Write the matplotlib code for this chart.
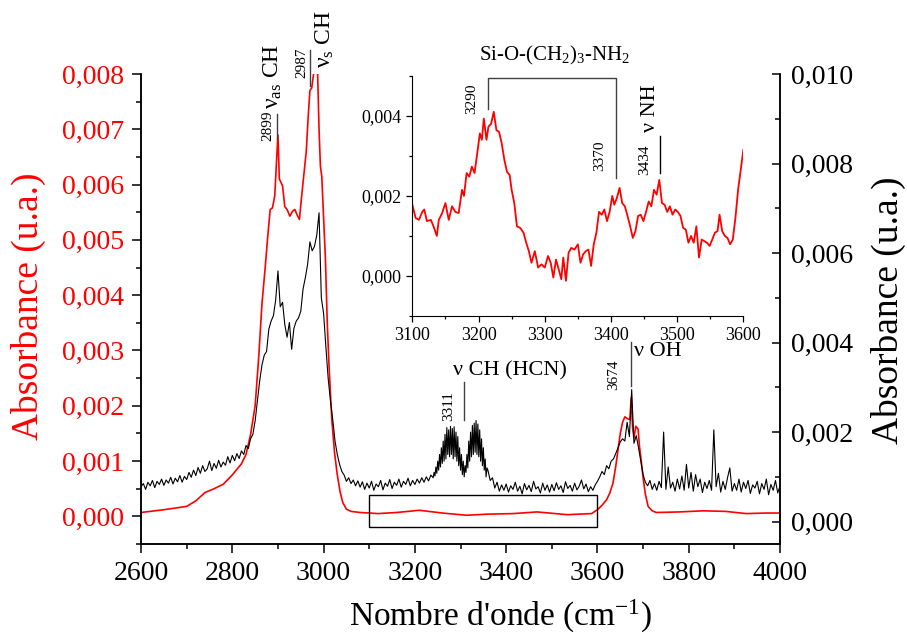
import matplotlib
matplotlib.use("Agg")
import matplotlib.pyplot as plt
import numpy as np
from matplotlib.patches import Rectangle
from matplotlib.ticker import FuncFormatter, MultipleLocator

plt.rcParams["font.family"] = ["Liberation Serif", "DejaVu Serif"]
plt.rcParams["mathtext.fontset"] = "custom"
plt.rcParams["mathtext.rm"] = "Liberation Serif"
plt.rcParams["mathtext.it"] = "Liberation Serif:italic"

# red spectrum (left axis)
red_wn = [2600, 2650, 2700, 2720, 2740, 2760, 2780, 2800, 2810, 2820,
          2830, 2840, 2850, 2858, 2865, 2872, 2878, 2883, 2888, 2893,
          2897, 2900, 2903, 2906, 2910, 2915, 2920, 2926, 2932, 2937,
          2942, 2947, 2952, 2957, 2962, 2966, 2970, 2974, 2978, 2982,
          2986, 2990, 2993, 2996, 3000, 3004, 3008, 3012, 3018, 3024,
          3030, 3036, 3042, 3050, 3060, 3080, 3120, 3160, 3210, 3260,
          3313, 3360, 3415, 3468, 3534, 3587, 3600, 3610, 3620, 3627,
          3634, 3640, 3645, 3650, 3655, 3660, 3667, 3671, 3674, 3677,
          3680, 3684, 3689, 3692, 3696, 3700, 3705, 3711, 3720, 3729,
          3780, 3831, 3880, 3926, 3970, 4000]
red_abs = [0.00007, 0.00012, 0.00018, 0.00028, 0.00043, 0.00050, 0.00058, 0.00075, 0.00085, 0.00095,
           0.00112, 0.00148, 0.00200, 0.00290, 0.00385, 0.00450, 0.00510, 0.00555, 0.00558, 0.00580,
           0.00645, 0.00690, 0.00610, 0.00605, 0.00598, 0.00560, 0.00555, 0.00543, 0.00552, 0.00555,
           0.00545, 0.00537, 0.00580, 0.00620, 0.00660, 0.00720, 0.00770, 0.00775, 0.00800, 0.00830,
           0.00830, 0.00700, 0.00633, 0.00615, 0.00540, 0.00465, 0.00350, 0.00270, 0.00175, 0.00115,
           0.00075, 0.00045, 0.00025, 0.00013, 0.00009, 0.00007, 0.00005, 0.00007, 0.00011, 0.00006,
           0.00002, 0.00004, 0.00005, 0.00008, 0.00003, 0.00005, 0.00012, 0.00020, 0.00030, 0.00042,
           0.00060, 0.00090, 0.00120, 0.00150, 0.00170, 0.00180, 0.00176, 0.00175, 0.00215, 0.00160,
           0.00142, 0.00163, 0.00158, 0.00127, 0.00100, 0.00070, 0.00040, 0.00018, 0.00010, 0.00007,
           0.00008, 0.00010, 0.00009, 0.00005, 0.00006, 0.00006]

# black spectrum (right axis), three pieces
blk_wn_a = np.arange(2600, 3240, 5)
blk_abs_a = [0.00078, 0.00085, 0.00072, 0.00088, 0.00080, 0.00092, 0.00076, 0.00090, 0.00083, 0.00095,
             0.00081, 0.00093, 0.00086, 0.00099, 0.00084, 0.00097, 0.00089, 0.00103, 0.00088, 0.00101,
             0.00094, 0.00110, 0.00099, 0.00115, 0.00103, 0.00121, 0.00108, 0.00125, 0.00112, 0.00118,
             0.00135, 0.00114, 0.00130, 0.00119, 0.00137, 0.00122, 0.00133, 0.00126, 0.00145, 0.00131,
             0.00148, 0.00136, 0.00152, 0.00141, 0.00158, 0.00150, 0.00170, 0.00163, 0.00185, 0.00195,
             0.00225, 0.00270, 0.00315, 0.00350, 0.00372, 0.00380, 0.00430, 0.00448, 0.00460, 0.00495,
             0.00560, 0.00480, 0.00490, 0.00440, 0.00412, 0.00445, 0.00385, 0.00432, 0.00448, 0.00455,
             0.00470, 0.00520, 0.00545, 0.00575, 0.00625, 0.00605, 0.00615, 0.00640, 0.00690, 0.00500,
             0.00465, 0.00390, 0.00320, 0.00270, 0.00228, 0.00180, 0.00150, 0.00128, 0.00112, 0.00104,
             0.00090, 0.00098, 0.00085, 0.00093, 0.00080, 0.00091, 0.00077, 0.00089, 0.00072, 0.00086,
             0.00075, 0.00090, 0.00070, 0.00084, 0.00078, 0.00092, 0.00071, 0.00086, 0.00079, 0.00094,
             0.00074, 0.00088, 0.00081, 0.00095, 0.00077, 0.00090, 0.00083, 0.00097, 0.00080, 0.00092,
             0.00083, 0.00095, 0.00086, 0.00098, 0.00088, 0.00100, 0.00091, 0.00104]
blk_wn_b = np.arange(3240, 3360, 2)
blk_abs_b = [0.00098, 0.00110, 0.00102, 0.00122, 0.00108, 0.00135, 0.00115, 0.00150, 0.00122, 0.00165,
             0.00130, 0.00180, 0.00135, 0.00195, 0.00140, 0.00210, 0.00150, 0.00205, 0.00145, 0.00213,
             0.00150, 0.00208, 0.00140, 0.00212, 0.00145, 0.00200, 0.00135, 0.00190, 0.00125, 0.00165,
             0.00115, 0.00150, 0.00105, 0.00135, 0.00100, 0.00125, 0.00110, 0.00150, 0.00120, 0.00180,
             0.00135, 0.00200, 0.00145, 0.00215, 0.00150, 0.00220, 0.00155, 0.00226, 0.00150, 0.00218,
             0.00145, 0.00205, 0.00135, 0.00185, 0.00125, 0.00165, 0.00115, 0.00140, 0.00100, 0.00120]
blk_wn_c = np.arange(3360, 4001, 5)
blk_abs_c = [0.00115, 0.00092, 0.00098, 0.00075, 0.00088, 0.00068, 0.00082, 0.00070,
             0.00084, 0.00066, 0.00080, 0.00072, 0.00088, 0.00068, 0.00079, 0.00062, 0.00085, 0.00071,
             0.00081, 0.00067, 0.00090, 0.00073, 0.00078, 0.00064, 0.00086, 0.00070, 0.00082, 0.00066,
             0.00083, 0.00069, 0.00087, 0.00072, 0.00080, 0.00065, 0.00089, 0.00074, 0.00081, 0.00068,
             0.00086, 0.00071, 0.00079, 0.00093, 0.00073, 0.00084, 0.00067, 0.00078, 0.00070, 0.00082,
             0.00090, 0.00100, 0.00112, 0.00105, 0.00125, 0.00118, 0.00135, 0.00140, 0.00152, 0.00165,
             0.00178, 0.00185, 0.00180, 0.00222, 0.00190, 0.00295, 0.00175, 0.00192, 0.00165, 0.00135,
             0.00105, 0.00088, 0.00080, 0.00092, 0.00072, 0.00085, 0.00070, 0.00090, 0.00076, 0.00200,
             0.00072, 0.00122, 0.00075, 0.00088, 0.00068, 0.00095, 0.00073, 0.00102, 0.00070, 0.00128,
             0.00075, 0.00110, 0.00068, 0.00105, 0.00078, 0.00095, 0.00065, 0.00088, 0.00074, 0.00092,
             0.00070, 0.00205, 0.00078, 0.00108, 0.00066, 0.00090, 0.00072, 0.00098, 0.00120, 0.00068,
             0.00085, 0.00070, 0.00095, 0.00066, 0.00088, 0.00074, 0.00092, 0.00063, 0.00082, 0.00075,
             0.00090, 0.00062, 0.00085, 0.00072, 0.00095, 0.00060, 0.00083, 0.00070, 0.00092, 0.00064,
             0.00080]

# inset: zoom of the red spectrum 3100-3600
ins_wn = [3100, 3105, 3110, 3115, 3118, 3122, 3128, 3132, 3137, 3140,
          3145, 3150, 3155, 3160, 3165, 3170, 3175, 3178, 3182, 3186,
          3190, 3194, 3198, 3202, 3205, 3208, 3212, 3215, 3219, 3223,
          3227, 3231, 3235, 3239, 3243, 3247, 3250, 3254, 3258, 3263,
          3268, 3272, 3276, 3280, 3285, 3290, 3295, 3300, 3305, 3309,
          3313, 3317, 3321, 3325, 3328, 3332, 3336, 3340, 3345, 3350,
          3354, 3358, 3362, 3366, 3370, 3374, 3378, 3382, 3386, 3390,
          3394, 3398, 3402, 3405, 3409, 3413, 3417, 3421, 3425, 3429,
          3433, 3437, 3441, 3445, 3449, 3453, 3457, 3461, 3465, 3469,
          3473, 3477, 3481, 3485, 3489, 3493, 3497, 3501, 3505, 3509,
          3513, 3517, 3521, 3525, 3529, 3533, 3537, 3541, 3545, 3549,
          3553, 3557, 3561, 3564, 3568, 3572, 3576, 3580, 3584, 3588,
          3592, 3596, 3600]
ins_abs = [0.00178, 0.00145, 0.00140, 0.00160, 0.00166, 0.00137, 0.00140, 0.00124, 0.00100, 0.00140,
           0.00157, 0.00182, 0.00140, 0.00174, 0.00160, 0.00157, 0.00215, 0.00200, 0.00257, 0.00248,
           0.00273, 0.00257, 0.00306, 0.00356, 0.00340, 0.00393, 0.00340, 0.00373, 0.00380, 0.00410,
           0.00364, 0.00360, 0.00331, 0.00290, 0.00260, 0.00252, 0.00215, 0.00182, 0.00124, 0.00120,
           0.00108, 0.00083, 0.00062, 0.00033, 0.00062, 0.00021, 0.00029, 0.00021, 0.00050, 0.00033,
           -0.00004, 0.00041, 0.00017, -0.00008, 0.00046, -0.00012, 0.00058, 0.00070, 0.00066, 0.00079,
           0.00033, 0.00054, 0.00062, 0.00066, 0.00025, 0.00079, 0.00108, 0.00160, 0.00153, 0.00166,
           0.00137, 0.00160, 0.00200, 0.00178, 0.00195, 0.00220, 0.00182, 0.00174, 0.00150, 0.00124,
           0.00095, 0.00112, 0.00150, 0.00153, 0.00137, 0.00160, 0.00186, 0.00174, 0.00215, 0.00203,
           0.00240, 0.00182, 0.00178, 0.00160, 0.00174, 0.00153, 0.00166, 0.00160, 0.00150, 0.00120,
           0.00116, 0.00083, 0.00100, 0.00083, 0.00124, 0.00046, 0.00091, 0.00087, 0.00083, 0.00075,
           0.00091, 0.00108, 0.00112, 0.00153, 0.00112, 0.00100, 0.00095, 0.00079, 0.00091, 0.00145,
           0.00215, 0.00265, 0.00315]


def comma_fmt(v, pos):
    return f"{v:.3f}".replace(".", ",")


fig = plt.figure(figsize=(9.07, 6.37), dpi=100)
ax = fig.add_axes([0.1555, 0.146, 0.7045, 0.7378])
ax2 = ax.twinx()

ax.plot(red_wn, red_abs, color="red", lw=1.2)
ax2.plot(np.concatenate([blk_wn_a, blk_wn_b, blk_wn_c]),
         np.concatenate([blk_abs_a, blk_abs_b, blk_abs_c]), color="black", lw=0.8)

ax.set_xlim(2600, 4000)
ax.set_ylim(-0.0005, 0.008)
ax2.set_ylim(-0.0005, 0.010)

ax.xaxis.set_major_locator(MultipleLocator(200))
ax.xaxis.set_minor_locator(MultipleLocator(100))
ax.yaxis.set_major_locator(MultipleLocator(0.001))
ax.yaxis.set_minor_locator(MultipleLocator(0.0005))
ax2.yaxis.set_major_locator(MultipleLocator(0.002))
ax2.yaxis.set_minor_locator(MultipleLocator(0.001))
ax.yaxis.set_major_formatter(FuncFormatter(comma_fmt))
ax2.yaxis.set_major_formatter(FuncFormatter(comma_fmt))

for a in (ax, ax2):
    a.spines["top"].set_visible(False)
    for s in a.spines.values():
        s.set_linewidth(1.1)
ax.tick_params(which="both", direction="out", width=1.1, labelsize=20, pad=6)
ax.tick_params(which="major", length=6.5)
ax.tick_params(which="minor", length=3.6)
ax.tick_params(axis="y", labelcolor="red")
ax2.tick_params(which="both", direction="in", width=1.1, labelsize=20, pad=8)
ax2.tick_params(which="major", length=5.5)
ax2.tick_params(which="minor", length=3.6)

ax.set_xlabel("Nombre d'onde (cm$^{-1}$)", fontsize=24, va="center")
ax.xaxis.set_label_coords(0.562, -0.155)
ax.set_ylabel("Absorbance (u.a.)", fontsize=27, color="red", va="center")
ax.yaxis.set_label_coords(-0.177, 0.505)
ax2.set_ylabel("Absorbance (u.a.)", fontsize=27, va="center")
ax2.yaxis.set_label_coords(1.169, 0.498)

# zoom box
ax.add_patch(Rectangle((3100, -0.0002), 500, 0.00058, fill=False, lw=1.0, ec="black", zorder=5))

# band assignments
gray = "0.25"
ax.plot([2897, 2897], [0.00682, 0.00727], color=gray, lw=1.0, clip_on=False)
ax.text(2878, 0.00707, "2899", rotation=90, ha="center", va="center", fontsize=11)
ax.text(2888, 0.00796, r"ν$_\mathrm{as}$ CH", rotation=90, ha="center", va="center", fontsize=17)
ax.plot([2970, 2970], [0.00778, 0.00844], color=gray, lw=1.0, clip_on=False)
ax.text(2953, 0.0082, "2987", rotation=90, ha="center", va="center", fontsize=11)
ax.text(3003, 0.00863, r"ν$_\mathrm{s}$ CH", rotation=90, ha="center", va="center", fontsize=17)

ax.plot([3307, 3307], [0.00175, 0.00243], color=gray, lw=1.0)
ax.text(3274, 0.0020, "3311", rotation=90, ha="center", va="center", fontsize=11)
ax.text(3409, 0.00263, "ν CH (HCN)", ha="center", va="center", fontsize=16)

ax.plot([3674, 3674], [0.00235, 0.00315], color=gray, lw=1.0)
ax.text(3636, 0.00257, "3674", rotation=90, ha="center", va="center", fontsize=11)
ax.text(3732, 0.00298, "ν OH", ha="center", va="center", fontsize=16)

# inset
axin = fig.add_axes([0.4546, 0.5039, 0.365, 0.3772])
axin.plot(ins_wn, ins_abs, color="red", lw=1.3)
axin.set_xlim(3100, 3600)
axin.set_ylim(-0.001, 0.005)
axin.spines["top"].set_visible(False)
axin.spines["right"].set_visible(False)
axin.xaxis.set_major_locator(MultipleLocator(100))
axin.xaxis.set_minor_locator(MultipleLocator(50))
axin.yaxis.set_major_locator(MultipleLocator(0.002))
axin.yaxis.set_minor_locator(MultipleLocator(0.001))
axin.yaxis.set_major_formatter(FuncFormatter(comma_fmt))
axin.tick_params(which="both", direction="out", labelsize=13, width=0.9)
axin.tick_params(which="major", length=4.5)
axin.tick_params(which="minor", length=2.5)

axin.plot([3215, 3215, 3407, 3407], [0.00418, 0.00495, 0.00495, 0.00244],
          color=gray, lw=1.0, clip_on=False)
axin.text(3190, 0.00443, "3290", rotation=90, ha="center", va="center", fontsize=11)
axin.text(3383, 0.0030, "3370", rotation=90, ha="center", va="center", fontsize=11)
axin.text(3451, 0.0029, "3434", rotation=90, ha="center", va="center", fontsize=11)
axin.plot([3474, 3474], [0.00258, 0.0035], color="black", lw=1.0)
axin.text(3459, 0.0042, "ν NH", rotation=90, ha="center", va="center", fontsize=16)
axin.text(3315, 0.0055, "Si-O-(CH$_2$)$_3$-NH$_2$", ha="center", va="center", fontsize=15,
          clip_on=False)

fig.savefig("out.png", dpi=100)
